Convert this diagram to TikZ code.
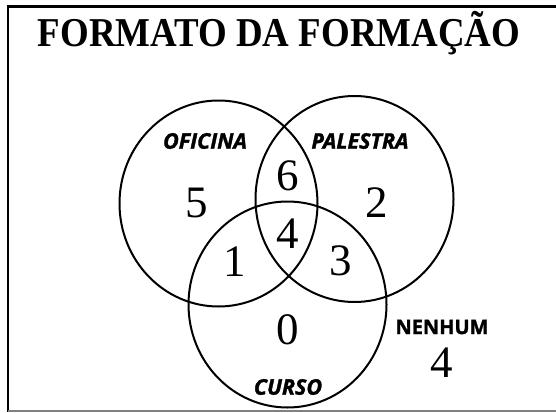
\documentclass[tikz,border=0pt]{standalone}
\usepackage{fontspec}
\setmainfont{Liberation Serif}
\newfontfamily\setsans[FakeBold=1.5]{Open Sans}
\usetikzlibrary{shapes.geometric}
\tikzset{
  setring/.style={ellipse, draw=black, line width=2pt, inner sep=0pt, minimum width=198pt, minimum height=206pt},
  setname/.style={font=\setsans\bfseries\itshape\fontsize{21.5}{21.5}\selectfont, inner sep=0pt},
  countnum/.style={font=\fontsize{45}{45}\selectfont, inner sep=0pt},
}
\begin{document}
\begin{tikzpicture}[x=1pt,y=-1pt]
\useasboundingbox (0,0) rectangle (556,412);
\fill[white] (0,0) rectangle (556,412);
% frame
\draw[black, line width=2.5pt] (556,6.5) -- (8,6.5) -- (8,412);
\draw[gray, line width=1.5pt] (8,411) -- (556,411);
% title
\node[inner sep=0pt, anchor=base] (title) at (279,47) {\scalebox{0.9}[1]{\fontsize{41}{41}\selectfont\bfseries FORMATO DA FORMAÇÃO}};
% sets
\node[setring] (ofi) at (218.5,203.5) {};
\node[setring] (pal) at (354.5,199) {};
\node[setring] (cur) at (287.5,304.5) {};
% set names
\node[setname] (lofi) at (205,141) {OFICINA};
\node[setname] (lpal) at (360,141) {PALESTRA};
\node[setname] (lcur) at (288,387) {CURSO};
\node[font=\setsans\bfseries\fontsize{20}{20}\selectfont, inner sep=0pt] (lnen) at (442,327) {NENHUM};
% counts
\node[countnum] (n5) at (197,203) {5};
\node[countnum] (n6) at (288,176) {6};
\node[countnum] (n2) at (377,203) {2};
\node[countnum] (n4) at (288,234) {4};
\node[countnum] (n1) at (235,262) {1};
\node[countnum] (n3) at (341,261) {3};
\node[countnum] (n0) at (288,330) {0};
\node[countnum] (nn) at (442,363) {4};
\end{tikzpicture}
\end{document}
